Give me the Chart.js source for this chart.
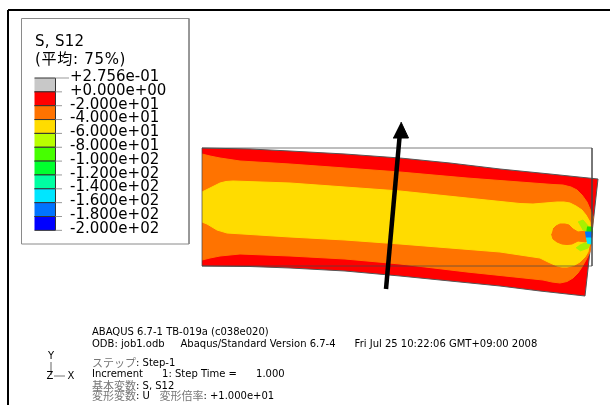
<!DOCTYPE html>
<html>
<head>
<meta charset="utf-8">
<title>S, S12</title>
<script src="https://cdn.jsdelivr.net/npm/chart.js@4"></script>
<style>
    html, body { margin: 0; padding: 0; background: #fff; }
    canvas { display: block; }
</style>
</head>
<body>
<canvas id="plot" width="610" height="405"></canvas>
<script>
// contour bands as [x, y] in image coordinates
const redBand = [[202,148],[250,149],[290,151],[345,154],[400,158],[450,163],[500,169],[550,174],[598,179],[585,296],[540,291],[500,286],[450,281],[400,276],[345,271],[290,268],[250,266.5],[202,266]];
const orangeBand = [[202,154],[210,156],[220,158],[240,161],[290,164],[345,168],[400,172],[467,178],[533,183],[553,184.5],[563,185],[571,187],[577,190],[582,195],[587,202],[590,209],[593,217],[592,235],[590,252],[586,260],[582,267],[578,273],[573,278],[567,281.5],[560,283],[552,282],[543,280],[467,272],[400,264],[345,259],[290,256],[240,254],[220,256],[210,258],[202,260]];
const yellowBand = [[202,192],[210,188],[220,183],[226,181.5],[233,181],[290,183],[345,187],[400,191],[467,198],[520,203.5],[533,204],[545,203],[557,202],[564,202],[570,203],[576,206],[582,210],[586,215],[590,222],[591,235],[588,252],[585,257],[580,262],[574,265.5],[567,267],[562,267],[557,266],[548,262],[540,258],[500,252],[450,248],[400,244],[345,240],[290,237],[227,233],[217,230],[207,224],[202,222]];
const orangeBlob = [[553,229],[556,226],[560,224],[565,224],[569,225],[573,229],[578,232],[586,231],[586,242],[578,241],[572,244],[567,244.5],[562,244],[557,242],[553,239],[551.5,234]];
const limeTop = [[578,222],[583,220],[589,227],[587,232],[582,229]];
const limeBottom = [[576,248],[580,245],[585,243],[590,244],[588,248],[580,251]];
const greenTip = [[587,227],[592,227],[592,233],[586,233]];
const blueTip = [[585,232],[592,232],[591.5,238.5],[586,238.5]];
const cyanTip = [[586,238],[591.5,238],[591,244],[587,243]];
const undeformed = [[202,148],[592,148],[592,266],[202,266],[202,148]];

const arrowShaft = [[386,289],[400,132]];
const arrowHead = [[401,122],[408.5,138],[393,138]];

const frameTop = [[8,10],[610,10]];
const frameLeft = [[8,10],[8,405]];
const legendBox = [[21.5,18.5],[189,18.5],[189,244],[21.5,244],[21.5,18.5]];

// legend contents
const legendTitle = ["S, S12", "(平均: 75%)"];
const legendLabels = ["+2.756e-01", "+0.000e+00", "-2.000e+01", "-4.000e+01", "-6.000e+01", "-8.000e+01", "-1.000e+02", "-1.200e+02", "-1.400e+02", "-1.600e+02", "-1.800e+02", "-2.000e+02"];
const legendColors = ["#c8c8c8", "#ff0000", "#ff7300", "#ffdc00", "#b9ff00", "#46ff00", "#00ff2e", "#00ffa2", "#00e6ff", "#0073ff", "#0000ff"];

const footerLines = [
    [332, [["ABAQUS 6.7-1 TB-019a (c038e020)", "#000"]]],
    [344, [["ODB: job1.odb     Abaqus/Standard Version 6.7-4      Fri Jul 25 10:22:06 GMT+09:00 2008", "#000"]]],
    [363, [["ステップ", "#777", 1], [": Step-1", "#000"]]],
    [374, [["Increment      1: Step Time =      1.000", "#000"]]],
    [386, [["基本変数", "#777", 1], [": S, S12", "#000"]]],
    [396, [["変形変数", "#777", 1], [": U   ", "#000"], ["変形倍率", "#777", 1], [": +1.000e+01", "#000"]]]
];

const barLeft = 34.5, barRight = 55.5, barTop = 78, barStep = 13.85;

function toPoints(list) {
    return list.map(p => ({ x: p[0], y: p[1] }));
}

function shape(list, color, edge) {
    return {
        data: toPoints(list),
        showLine: true,
        fill: "shape",
        backgroundColor: color,
        borderColor: edge || color,
        borderWidth: 1,
        pointRadius: 0,
        tension: 0
    };
}

function stroke(list, color, width) {
    return {
        data: toPoints(list),
        showLine: true,
        fill: false,
        borderColor: color,
        borderWidth: width,
        pointRadius: 0,
        tension: 0
    };
}

let datasets = [
    stroke(frameTop, "#000", 2),
    stroke(frameLeft, "#000", 2),
    stroke(legendBox, "#8a8a8a", 1),
    shape(redBand, "#ff0000", "#555"),
    shape(orangeBand, "#ff7300"),
    shape(yellowBand, "#ffdc00"),
    shape(orangeBlob, "#ff7300"),
    shape(limeTop, "#a8f000"),
    shape(limeBottom, "#a8f000"),
    shape(greenTip, "#20e000"),
    shape(blueTip, "#0073ff"),
    shape(cyanTip, "#00e6ff"),
    stroke(undeformed, "rgba(70,70,70,0.7)", 1),
    stroke(arrowShaft, "#000", 4.5),
    shape(arrowHead, "#000")
];

// colour bar swatches and their ticks
legendColors.forEach((c, i) => {
    let y0 = barTop + i * barStep, y1 = y0 + barStep;
    datasets.push(shape([[barLeft, y0], [barRight, y0], [barRight, y1], [barLeft, y1]], c, "#333"));
});
legendLabels.forEach((t, i) => {
    let y = barTop + i * barStep;
    datasets.push(stroke([[barRight, y], [i == 0 ? 69 : 62, y]], "#999", 1));
});

// triad
datasets.push(stroke([[51, 362], [51, 375]], "#999", 1.5));
datasets.push(stroke([[54, 376], [65, 376]], "#777", 1));

datasets.forEach((d, i) => { d.order = -i; });

const textPlugin = {
    id: "texts",
    afterDraw(chart) {
        const ctx = chart.ctx, sx = chart.scales.x, sy = chart.scales.y;
        ctx.save();
        ctx.textBaseline = "middle";
        ctx.fillStyle = "#000";

        ctx.font = '15px "DejaVu Sans", "Noto Sans CJK JP"';
        ctx.letterSpacing = "0.3px";
        ctx.fillText(legendTitle[0], sx.getPixelForValue(35), sy.getPixelForValue(42));
        ctx.letterSpacing = "0.7px";
        ctx.fillText(legendTitle[1], sx.getPixelForValue(35), sy.getPixelForValue(60));
        ctx.letterSpacing = "0px";

        ctx.font = '15px "DejaVu Sans"';
        legendLabels.forEach((t, i) => {
            ctx.fillText(t, sx.getPixelForValue(70), sy.getPixelForValue(77 + i * 13.82));
        });

        footerLines.forEach(line => {
            let x = sx.getPixelForValue(92);
            line[1].forEach(part => {
                // kana and kanji run a little larger than the latin text
                ctx.font = part[2] ? '11px "Noto Sans CJK JP"' : '10px "DejaVu Sans"';
                ctx.fillStyle = part[1];
                ctx.fillText(part[0], x, sy.getPixelForValue(line[0]));
                x += ctx.measureText(part[0]).width;
            });
        });

        ctx.fillStyle = "#000";
        ctx.font = '10px "DejaVu Sans"';
        ctx.textAlign = "center";
        ctx.fillText("Y", sx.getPixelForValue(51), sy.getPixelForValue(356));
        ctx.fillText("Z", sx.getPixelForValue(50), sy.getPixelForValue(376));
        ctx.fillText("X", sx.getPixelForValue(71), sy.getPixelForValue(376));
        ctx.restore();
    }
};

new Chart(document.getElementById("plot"), {
    type: "scatter",
    data: { datasets: datasets },
    options: {
        responsive: false,
        animation: false,
        layout: { padding: 0 },
        plugins: { legend: { display: false }, tooltip: { enabled: false } },
        scales: {
            x: { type: "linear", display: false, min: 0, max: 610 },
            y: { type: "linear", display: false, min: 0, max: 405, reverse: true }
        }
    },
    plugins: [textPlugin]
});
</script>
</body>
</html>
